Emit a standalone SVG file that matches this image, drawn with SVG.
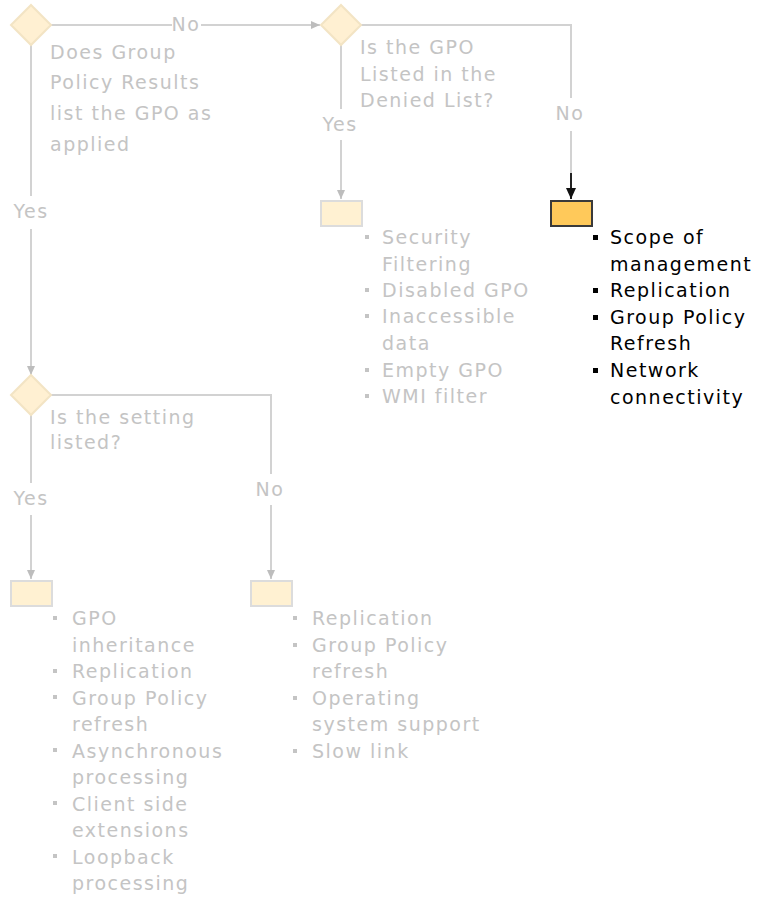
<svg xmlns="http://www.w3.org/2000/svg" width="759" height="900" viewBox="0 0 759 900">
<style>
text{font-family:"DejaVu Sans","Verdana",sans-serif;font-size:19px;letter-spacing:1.5px}
.g{fill:#c4c4c4}
.k{fill:#000}
.dia{fill:#fff0d2;stroke:#f3e4c4;stroke-width:2}
.box{fill:#fff1d2;stroke:#dcdcdc;stroke-width:2}
.hot{fill:#ffc95a;stroke:#3a3a3a;stroke-width:2}
.ln{fill:none;stroke:#d2d2d2;stroke-width:2}
.lnk{fill:none;stroke:#222;stroke-width:2}
.bg{fill:#c4c4c4}
.bk{fill:#000}
</style>
<defs>
<marker id="ag" markerWidth="10" markerHeight="10" refX="9" refY="5" orient="auto" markerUnits="userSpaceOnUse"><path d="M0,1 L9,5 L0,9 Z" fill="#bdbdbd"/></marker>
<marker id="ak" markerWidth="12" markerHeight="12" refX="11" refY="6" orient="auto" markerUnits="userSpaceOnUse"><path d="M0,1 L11,6 L0,11 Z" fill="#111"/></marker>
</defs>
<rect width="759" height="900" fill="#fff"/>
<g id="connectors">
<path class="ln" d="M51,25 H172"/>
<path class="ln" d="M201,25 H320" marker-end="url(#ag)"/>
<text class="g" x="186" y="31" text-anchor="middle">No</text>
<path class="ln" d="M361,25 H571 V98"/>
<text class="g" x="570" y="120" text-anchor="middle">No</text>
<path class="ln" d="M571,131 V173"/>
<path class="lnk" d="M571,173 V199" marker-end="url(#ak)"/>
<path class="ln" d="M341,45 V109"/>
<text class="g" x="340" y="131" text-anchor="middle">Yes</text>
<path class="ln" d="M341,140 V199" marker-end="url(#ag)"/>
<path class="ln" d="M31,45 V196"/>
<text class="g" x="31" y="218" text-anchor="middle">Yes</text>
<path class="ln" d="M31,229 V375" marker-end="url(#ag)"/>
<path class="ln" d="M51,395 H271 V474"/>
<text class="g" x="270" y="496" text-anchor="middle">No</text>
<path class="ln" d="M271,505 V579" marker-end="url(#ag)"/>
<path class="ln" d="M31,414 V483"/>
<text class="g" x="31" y="505" text-anchor="middle">Yes</text>
<path class="ln" d="M31,515 V579" marker-end="url(#ag)"/>
</g>
<g id="q1">
<path class="dia" d="M31,5 L51,25 L31,45 L11,25 Z"/>
<text class="g" x="50"><tspan x="50" y="59">Does Group</tspan><tspan x="50" y="89">Policy Results</tspan><tspan x="50" y="120">list the GPO as</tspan><tspan x="50" y="151">applied</tspan></text>
</g>
<g id="q2">
<path class="dia" d="M341,5 L361,25 L341,45 L321,25 Z"/>
<text class="g"><tspan x="360" y="54">Is the GPO</tspan><tspan x="360" y="81">Listed in the</tspan><tspan x="360" y="107">Denied List?</tspan></text>
</g>
<g id="q3">
<path class="dia" d="M31,375 L51,395 L31,415 L11,395 Z"/>
<text class="g"><tspan x="50" y="424">Is the setting</tspan><tspan x="50" y="449">listed?</tspan></text>
</g>
<g id="r1">
<rect class="box" x="321" y="201" width="41" height="25"/>
<g class="bg"><rect x="365" y="235" width="4" height="4"/><rect x="365" y="288" width="4" height="4"/><rect x="365" y="314" width="4" height="4"/><rect x="365" y="368" width="4" height="4"/><rect x="365" y="394" width="4" height="4"/></g>
<text class="g"><tspan x="382" y="244">Security</tspan><tspan x="382" y="271">Filtering</tspan><tspan x="382" y="297">Disabled GPO</tspan><tspan x="382" y="323">Inaccessible</tspan><tspan x="382" y="350">data</tspan><tspan x="382" y="377">Empty GPO</tspan><tspan x="382" y="403">WMI filter</tspan></text>
</g>
<g id="r2">
<rect class="hot" x="551" y="201" width="41" height="25"/>
<g class="bk"><rect x="593" y="235" width="5" height="5"/><rect x="593" y="288" width="5" height="5"/><rect x="593" y="315" width="5" height="5"/><rect x="593" y="368" width="5" height="5"/></g>
<text class="k"><tspan x="610" y="244">Scope of</tspan><tspan x="610" y="271">management</tspan><tspan x="610" y="297">Replication</tspan><tspan x="610" y="324">Group Policy</tspan><tspan x="610" y="350">Refresh</tspan><tspan x="610" y="377">Network</tspan><tspan x="610" y="404">connectivity</tspan></text>
</g>
<g id="r3">
<rect class="box" x="11" y="581" width="41" height="25"/>
<g class="bg"><rect x="53" y="616" width="4" height="4"/><rect x="53" y="669" width="4" height="4"/><rect x="53" y="695" width="4" height="4"/><rect x="53" y="748" width="4" height="4"/><rect x="53" y="801" width="4" height="4"/><rect x="53" y="854" width="4" height="4"/></g>
<text class="g"><tspan x="72" y="625">GPO</tspan><tspan x="72" y="652">inheritance</tspan><tspan x="72" y="678">Replication</tspan><tspan x="72" y="705">Group Policy</tspan><tspan x="72" y="731">refresh</tspan><tspan x="72" y="758">Asynchronous</tspan><tspan x="72" y="784">processing</tspan><tspan x="72" y="811">Client side</tspan><tspan x="72" y="837">extensions</tspan><tspan x="72" y="864">Loopback</tspan><tspan x="72" y="890">processing</tspan></text>
</g>
<g id="r4">
<rect class="box" x="251" y="581" width="41" height="25"/>
<g class="bg"><rect x="293" y="616" width="4" height="4"/><rect x="293" y="643" width="4" height="4"/><rect x="293" y="696" width="4" height="4"/><rect x="293" y="749" width="4" height="4"/></g>
<text class="g"><tspan x="312" y="625">Replication</tspan><tspan x="312" y="652">Group Policy</tspan><tspan x="312" y="678">refresh</tspan><tspan x="312" y="705">Operating</tspan><tspan x="312" y="731">system support</tspan><tspan x="312" y="758">Slow link</tspan></text>
</g>
</svg>
